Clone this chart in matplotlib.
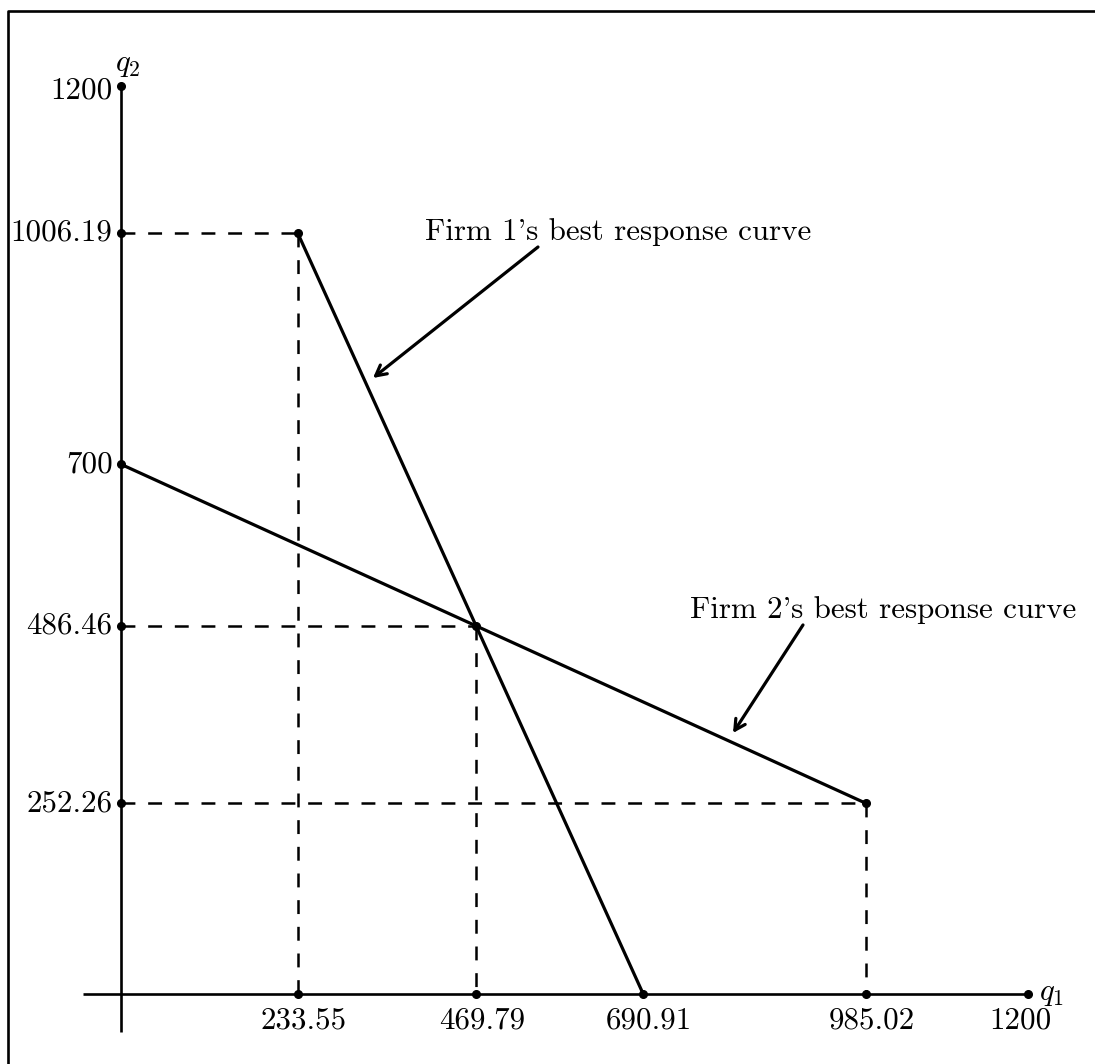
import matplotlib
matplotlib.use("Agg")
import matplotlib.pyplot as plt
from matplotlib.lines import Line2D

# ---- data ----
q1_ticks = [233.55, 469.79, 690.91, 985.02, 1200]
q2_ticks = [252.26, 486.46, 700, 1006.19, 1200]
firm1_q1 = [233.55, 690.91]
firm1_q2 = [1006.19, 0]
firm2_q1 = [0, 985.02]
firm2_q2 = [700, 252.26]
nash_q1 = 469.79
nash_q2 = 486.46
label1 = "Firm 1's best response curve"
label2 = "Firm 2's best response curve"

# ---- style ----
plt.rcParams['font.family'] = ['cmr10', 'DejaVu Serif']
plt.rcParams['mathtext.fontset'] = 'cm'
plt.rcParams['axes.unicode_minus'] = False
plt.rcParams['lines.scale_dashes'] = False
FS = 22.3
LW_AX = 1.9
LW_CURVE = 2.3
LW_DASH = 1.8
DASH = (10, 9.2)
MS = 5.5

fig = plt.figure(figsize=(10.95, 10.64), dpi=100)
ax = fig.add_axes([0, 0, 1, 1])
ax.set_xlim(-160.09, 1288.65)
ax.set_ylim(-92.5, 1313.6)
ax.axis('off')

# frame (open at right & bottom, as cropped)
fx = 8 / 1095
fy = 1 - 11 / 1064
fig.add_artist(Line2D([fx, fx, 1.02], [-0.02, fy, fy], transform=fig.transFigure,
                      color='black', lw=1.9))

# axes
ax.plot([-50, 1200], [0, 0], color='black', lw=LW_AX, solid_capstyle='butt')
ax.plot([0, 0], [-50, 1200], color='black', lw=LW_AX, solid_capstyle='butt')

# dashed guide lines
corners = [(firm1_q1[0], firm1_q2[0]), (nash_q1, nash_q2), (firm2_q1[1], firm2_q2[1])]
for cx, cy in corners:
    ax.plot([0, cx], [cy, cy], color='black', lw=LW_DASH, dashes=DASH, dash_capstyle='butt')
    ax.plot([cx, cx], [cy, 0], color='black', lw=LW_DASH, dashes=DASH, dash_capstyle='butt')

# best response curves
ax.plot(firm1_q1, firm1_q2, color='black', lw=LW_CURVE, solid_capstyle='round')
ax.plot(firm2_q1, firm2_q2, color='black', lw=LW_CURVE, solid_capstyle='round')

# dots
ax.plot(q1_ticks, [0] * len(q1_ticks), 'o', color='black', ms=MS, zorder=5)
ax.plot([0] * len(q2_ticks), q2_ticks, 'o', color='black', ms=MS, zorder=5)
ax.plot([c[0] for c in corners], [c[1] for c in corners], 'o', color='black', ms=MS, zorder=5)

# tick labels
def fmt(v):
    return f"{v:g}" if float(v).is_integer() else f"{v:.2f}"

for i, v in enumerate(q1_ticks):
    dx = 4.3 if i < len(q1_ticks) - 1 else -5.5
    ax.annotate(fmt(v), (v, 0), xytext=(dx, -9), textcoords='offset points',
                ha='center', va='top', fontsize=FS)
for i, v in enumerate(q2_ticks):
    dy = 0 if i < len(q2_ticks) - 1 else -3
    ax.annotate(fmt(v), (0, v), xytext=(-6, dy), textcoords='offset points',
                ha='right', va='center', fontsize=FS)

# axis names
ax.annotate(r'$q_1$', (1200, 0), xytext=(8, 0), textcoords='offset points',
            ha='left', va='center', fontsize=FS)
ax.annotate(r'$q_2$', (0, 1200), xytext=(-4, 5), textcoords='offset points',
            ha='left', va='bottom', fontsize=FS)

# curve labels with arrows
ax.text(657.6, 996.5, label1, ha='center', va='baseline', fontsize=FS)
ax.text(1008.2, 496.9, label2, ha='center', va='baseline', fontsize=FS)
arrow = dict(arrowstyle='->,head_length=0.75,head_width=0.4', lw=LW_CURVE,
             color='black', shrinkA=0, shrinkB=0)
ax.annotate('', xy=(333.4, 814.1), xytext=(551.7, 987.2), arrowprops=arrow)
ax.annotate('', xy=(809.7, 344.9), xytext=(902.3, 487.7), arrowprops=arrow)

fig.savefig('out.png', dpi=100)
